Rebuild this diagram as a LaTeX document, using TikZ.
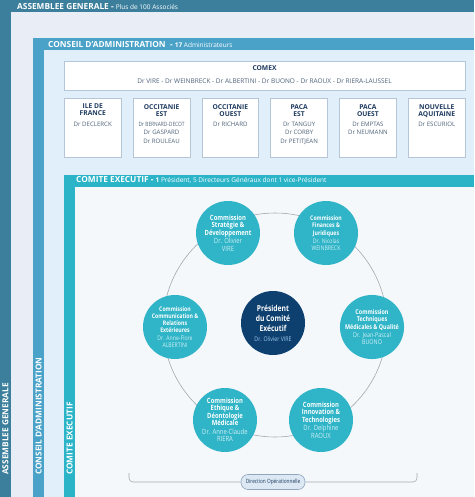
\documentclass[tikz,border=0pt]{standalone}
\usepackage{fontspec}
\setmainfont{Open Sans}
\newfontfamily\cond[FakeStretch=0.82]{Open Sans}
\definecolor{agbar}{HTML}{3C7F9C}
\definecolor{agbg}{HTML}{E9EEF6}
\definecolor{cabar}{HTML}{4AA2C8}
\definecolor{cabg}{HTML}{E0EFFA}
\definecolor{cebar}{HTML}{2BB4C8}
\definecolor{cebg}{HTML}{F4F8FB}
\definecolor{boxline}{HTML}{B5C6D6}
\definecolor{circ}{HTML}{30B4C7}
\definecolor{navy}{HTML}{0E406F}
\definecolor{ringc}{HTML}{A3AAB2}
\definecolor{titc}{HTML}{1E3A5F}
\definecolor{namec}{HTML}{4E6279}
\definecolor{cname}{HTML}{CFF1F6}
\definecolor{pname}{HTML}{9CC8EE}
\definecolor{pillf}{HTML}{DCE8F3}
\definecolor{pilld}{HTML}{8FA6BE}
\newcommand\cnm[1]{{\mdseries\color{cname}#1}}
\newcommand\pnm[1]{{\mdseries\color{pname}\fontsize{6.4}{10}\selectfont #1}}
\newcommand\rtl[1]{{\bfseries\color{titc}\fontsize{6.7}{8.6}\selectfont #1}}
\begin{document}
\begin{tikzpicture}[x=1pt,y=-1pt,
  hdr/.style={anchor=base west, text=white, inner sep=0, font=\bfseries\fontsize{8.3}{9}\selectfont},
  vhdr/.style={anchor=base west, rotate=90, text=white, inner sep=0, font=\bfseries\fontsize{8.3}{9}\selectfont},
  rbox/.style={draw=boxline, fill=white, line width=0.7pt, minimum width=56.8pt, minimum height=59pt, inner sep=0, anchor=north west},
  rtext/.style={anchor=north, align=center, inner sep=0, text=namec, font=\fontsize{6.1}{8.6}\selectfont},
  comm/.style={circle, fill=circ, minimum size=64pt, inner sep=0, align=center, text=white},
]
\useasboundingbox (0,0) rectangle (474,497);
% frames
\fill[agbg] (0,0) rectangle (474,497);
\fill[agbar] (0,0) rectangle (474,12);
\fill[agbar] (0,0) rectangle (11,497);
\fill[cabg] (33,38) rectangle (474,497);
\fill[cabar] (33,38) rectangle (474,50);
\fill[cabar] (33,38) rectangle (44,497);
\fill[cebg] (64,175) rectangle (474,497);
\fill[cebar] (64,175) rectangle (474,187);
\fill[cebar] (64,175) rectangle (75,497);
% headers
\node[hdr] (aghdr) at (17,9.5) {ASSEMBLEE GENERALE -\ {\mdseries\fontsize{6.5}{7}\selectfont Plus de 100 Associés}};
\node[hdr] (cahdr) at (48,47.5) {CONSEIL D'ADMINISTRATION\ \ -\ {\fontsize{6.5}{7}\selectfont 17 {\mdseries Administrateurs}}};
\node[hdr] (cehdr) at (76,182) {COMITE EXECUTIF -\ {\fontsize{6.5}{7}\selectfont 1 {\mdseries Président, 5 Directeurs Généraux dont 1 vice-Président}}};
\node[vhdr] (agv) at (8.5,475) {ASSEMBLEE GENERALE};
\node[vhdr] (cav) at (41.5,475) {CONSEIL D'ADMINISTRATION};
\node[vhdr] (cev) at (72.5,475) {COMITE EXECUTIF};
% COMEX
\node[draw=boxline, fill=white, line width=0.7pt, anchor=north west, minimum width=401pt, minimum height=29pt, inner sep=0] (comex) at (64,61) {};
\node[anchor=base, inner sep=0, font=\bfseries\fontsize{6.7}{7}\selectfont, text=titc] (comext) at (264.5,71) {COMEX};
\node[anchor=base, inner sep=0, font=\fontsize{6.5}{7}\selectfont, text=namec] (comexn) at (264.5,84) {Dr VIRE - Dr WEINBRECK - Dr ALBERTINI - Dr BUONO - Dr RAOUX - Dr RIERA-LAUSSEL};
% regions
\node[rbox] (r1) at (64,98) {};
\node[rbox] (r2) at (132.8,98) {};
\node[rbox] (r3) at (201.6,98) {};
\node[rbox] (r4) at (270.4,98) {};
\node[rbox] (r5) at (339.2,98) {};
\node[rbox] (r6) at (408,98) {};
\node[rtext] (r1t) at ([yshift=-6pt]r1.north) {\rtl{ILE DE}\\[-1.6pt]\rtl{FRANCE}\\[1.5pt] Dr DECLERCK};
\node[rtext] (r2t) at ([yshift=-6pt]r2.north) {\rtl{OCCITANIE}\\[-1.6pt]\rtl{EST}\\[1.5pt] {\cond\fontsize{5.9}{7}\selectfont Dr BERNARD-DECOT}\\ Dr GASPARD\\ Dr ROULEAU};
\node[rtext] (r3t) at ([yshift=-6pt]r3.north) {\rtl{OCCITANIE}\\[-1.6pt]\rtl{OUEST}\\[1.5pt] Dr RICHARD};
\node[rtext] (r4t) at ([yshift=-6pt]r4.north) {\rtl{PACA}\\[-1.6pt]\rtl{EST}\\[1.5pt] Dr TANGUY\\ Dr CORBY\\ Dr PETITJEAN};
\node[rtext] (r5t) at ([yshift=-6pt]r5.north) {\rtl{PACA}\\[-1.6pt]\rtl{OUEST}\\[1.5pt] Dr EMPTAS\\ Dr NEUMANN};
\node[rtext] (r6t) at ([yshift=-6pt]r6.north) {\rtl{NOUVELLE}\\[-1.6pt]\rtl{AQUITAINE}\\[1.5pt] Dr ESCURIOL};
% ring
\coordinate (rc) at (275,325);
\draw[ringc, line width=0.6pt] (rc) circle[radius=112];
% commissions
\node[comm, font=\cond\bfseries\fontsize{7.2}{7.6}\selectfont] (strat) at (228,233) {Commission\\Stratégie \&\\Développement\\[1pt]\cnm{Dr. Olivier}\\\cnm{VIRE}};
\node[comm, font=\cond\bfseries\fontsize{6.3}{7.4}\selectfont] (fin) at (326,233) {Commission\\Finances \&\\Juridiques\\[0.5pt]\cnm{Dr. Nicolas}\\\cnm{WEINBRECK}};
\node[comm, font=\cond\bfseries\fontsize{6.3}{7.2}\selectfont] (comm) at (175,327) {Commission\\Communication \&\\Relations\\Extérieures\\[0.5pt]\cnm{Dr. Anne-Flore}\\\cnm{ALBERTINI}};
\node[comm, font=\cond\bfseries\fontsize{6.6}{7.3}\selectfont] (tech) at (372,327) {Commission\\Techniques\\Médicales \& Qualité\\[0.5pt]\cnm{Dr. Jean-Pascal}\\\cnm{BUONO}};
\node[comm, font=\cond\bfseries\fontsize{7.2}{7.5}\selectfont] (eth) at (225,420) {Commission\\Ethique \&\\Déontologie\\Médicale\\[1pt]\cnm{Dr. Anne-Claude}\\\cnm{RIERA}};
\node[comm, font=\cond\bfseries\fontsize{7.2}{7.6}\selectfont] (innov) at (321,420) {Commission\\Innovation \&\\Technologies\\[1pt]\cnm{Dr. Delphine}\\\cnm{RAOUX}};
% president
\node[comm, fill=navy, font=\cond\bfseries\fontsize{8.2}{10}\selectfont] (pres) at (273,323) {Président\\du Comité\\Exécutif\\\pnm{Dr. Olivier VIRE}};
% direction operationnelle
\node[draw=pilld, fill=pillf, line width=0.6pt, rounded corners=7pt, minimum width=64pt, minimum height=15pt, inner sep=0, text=titc, font=\cond\fontsize{5.8}{6}\selectfont] (dir) at (273,482) {Direction Opérationnelle};
\coordinate (dl) at (129,473);
\coordinate (dr) at (417,473);
\draw[ringc, line width=0.6pt, rounded corners=4pt] (dl) |- (dir.west);
\draw[ringc, line width=0.6pt, rounded corners=4pt] (dir.east) -| (dr);
\end{tikzpicture}
\end{document}
